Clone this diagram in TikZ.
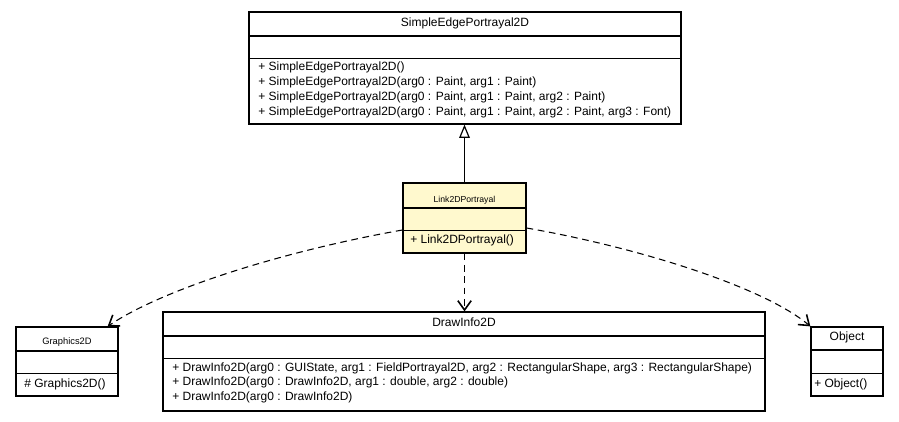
\documentclass[tikz,border=0pt]{standalone}
\usepackage{fontspec}
\setmainfont{Liberation Sans}
\usetikzlibrary{arrows.meta}

\definecolor{linkfill}{RGB}{255,249,206}

\tikzset{
  classbox/.style={draw, line width=0.9pt, inner sep=0pt},
  titlesep/.style={line width=0.9pt},
  opsep/.style={line width=0.6pt},
  optext/.style={anchor=west, inner sep=0pt, font=\fontsize{9}{10}\selectfont},
  titletext/.style={inner sep=0pt, font=\fontsize{9}{10}\selectfont},
  dependency/.style={line width=0.8pt, dash pattern=on 5pt off 3.5pt,
    -{Straight Barb[length=7pt,width=10pt,line width=1.2pt]}},
  generalization/.style={line width=0.9pt,
    -{Triangle[open, length=10pt, width=8pt, fill=white, line width=0.9pt]}},
}

\begin{document}
\begin{tikzpicture}[x=0.75pt,y=0.75pt,yscale=-1,xscale=1]
\useasboundingbox (0,0) rectangle (899,421);

%Class: SimpleEdgePortrayal2D
\node [classbox, minimum width=324pt, minimum height=84pt] (simpleEdge) at (465,68) {};
\draw [titlesep] (simpleEdge.west |- 0,36) -- (simpleEdge.east |- 0,36) ;
\draw [opsep] (simpleEdge.west |- 0,58) -- (simpleEdge.east |- 0,58) ;
% Text Node
\node [titletext] (simpleEdgeName) at (465,23) {SimpleEdgePortrayal2D};
% Text Node
\node [optext] (simpleEdgeOpA) at (258,67.5) {+ SimpleEdgePortrayal2D()};
% Text Node
\node [optext] (simpleEdgeOpB) at (258,82.5) {+ SimpleEdgePortrayal2D(arg0 : Paint, arg1 : Paint)};
% Text Node
\node [optext] (simpleEdgeOpC) at (258,97.5) {+ SimpleEdgePortrayal2D(arg0 : Paint, arg1 : Paint, arg2 : Paint)};
% Text Node
\node [optext] (simpleEdgeOpD) at (258,112.5) {+ SimpleEdgePortrayal2D(arg0 : Paint, arg1 : Paint, arg2 : Paint, arg3 : Font)};

%Class: Link2DPortrayal
\node [classbox, fill=linkfill, minimum width=92.25pt, minimum height=52.5pt] (linkPortrayal) at (464.5,218) {};
\draw [titlesep] (linkPortrayal.west |- 0,208) -- (linkPortrayal.east |- 0,208) ;
\draw [opsep] (linkPortrayal.west |- 0,230) -- (linkPortrayal.east |- 0,230) ;
% Text Node
\node [titletext, font=\fontsize{6.5}{7}\selectfont] (linkPortrayalName) at (464.5,200) {Link2DPortrayal};
% Text Node
\node [optext] (linkPortrayalOp) at (410,240) {+ Link2DPortrayal()};

%Class: Graphics2D
\node [classbox, minimum width=76.5pt, minimum height=51.75pt] (graphics) at (67,361.5) {};
\draw [titlesep] (graphics.west |- 0,351) -- (graphics.east |- 0,351) ;
\draw [opsep] (graphics.west |- 0,373) -- (graphics.east |- 0,373) ;
% Text Node
\node [titletext, font=\fontsize{7}{8}\selectfont] (graphicsName) at (67,342) {Graphics2D};
% Text Node
\node [optext] (graphicsOp) at (24,384) {\# Graphics2D()};

%Class: DrawInfo2D
\node [classbox, minimum width=451.5pt, minimum height=74.25pt] (drawInfo) at (464,361.5) {};
\draw [titlesep] (drawInfo.west |- 0,336) -- (drawInfo.east |- 0,336) ;
\draw [opsep] (drawInfo.west |- 0,358) -- (drawInfo.east |- 0,358) ;
% Text Node
\node [titletext] (drawInfoName) at (464,322) {DrawInfo2D};
% Text Node
\node [optext] (drawInfoOpA) at (172,368) {+ DrawInfo2D(arg0 : GUIState, arg1 : FieldPortrayal2D, arg2 : RectangularShape, arg3 : RectangularShape)};
% Text Node
\node [optext] (drawInfoOpB) at (172,382.5) {+ DrawInfo2D(arg0 : DrawInfo2D, arg1 : double, arg2 : double)};
% Text Node
\node [optext] (drawInfoOpC) at (172,397) {+ DrawInfo2D(arg0 : DrawInfo2D)};

%Class: Object
\node [classbox, minimum width=54pt, minimum height=51.75pt] (object) at (847,361.5) {};
\draw [titlesep] (object.west |- 0,350) -- (object.east |- 0,350) ;
\draw [opsep] (object.west |- 0,373) -- (object.east |- 0,373) ;
% Text Node
\node [titletext] (objectName) at (847,337) {Object};
% Text Node
\node [optext] (objectOp) at (814,384) {+ Object()};

%Connectors
\coordinate (linkLeftEnd) at (linkPortrayal.west |- 0,230);
\coordinate (linkRightEnd) at (linkPortrayal.east |- 0,228);
\coordinate (graphicsTip) at ([xshift=-8.25pt]graphics.north east);

\draw [generalization] (linkPortrayal.north) -- (linkPortrayal.north |- simpleEdge.south) ;
\draw [dependency] (linkPortrayal.south) -- (linkPortrayal.south |- drawInfo.north) ;
\draw [dependency] (linkLeftEnd) .. controls +(-113,20) and +(58,-39) .. (graphicsTip) ;
\draw [dependency] (linkRightEnd) .. controls +(114,20) and +(-46,-39) .. (object.north west) ;

\end{tikzpicture}
\end{document}
